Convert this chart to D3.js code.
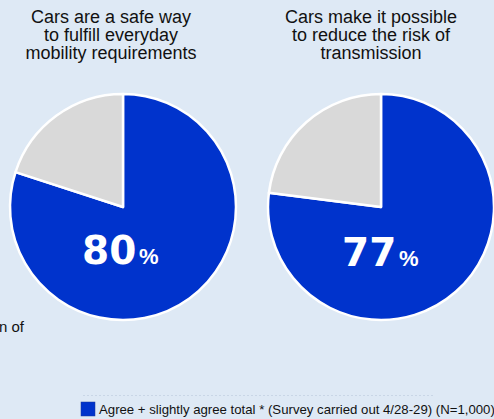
<!DOCTYPE html>
<html>
<head>
<meta charset="utf-8">
<script src="https://cdn.jsdelivr.net/npm/d3@7"></script>
<style>
  html, body { margin: 0; padding: 0; background: #dee9f5; }
  svg { display: block; font-family: "Liberation Sans", Arial, sans-serif; }
</style>
</head>
<body>
<svg id="chart" width="494" height="419"></svg>
<script>
// Survey questions (one pie each) and the share answering "agree + slightly agree"
const questions = [
  ["Cars are a safe way", "to fulfill everyday", "mobility requirements"],
  ["Cars make it possible", "to reduce the risk of", "transmission"]
];
const agreeValues = [80, 77];
const legendText = "Agree + slightly agree total * (Survey carried out 4/28-29) (N=1,000)";
const sideText = "n of";

const W = 494, H = 419;
const svg = d3.select("#chart");
const blue = "#0033cc", grey = "#d9d9d9";

svg.append("rect").attr("width", W).attr("height", H).attr("fill", "#dee9f5");

// Horizontal placement of the two pies and their titles
const x = d3.scalePoint().domain(d3.range(questions.length)).range([123, 381]);
const titleX = d3.scalePoint().domain(d3.range(questions.length)).range([111, 371]);
const cy = 207, r = 113;

const pie = d3.pie().sort(null).value(d => d.v);
const arc = d3.arc().innerRadius(0).outerRadius(r);

questions.forEach((lines, i) => {
  const t = svg.append("text")
    .attr("x", titleX(i)).attr("y", 22.5)
    .attr("text-anchor", "middle")
    .attr("font-size", 18).attr("fill", "#111");
  lines.forEach((ln, j) => {
    t.append("tspan").attr("x", titleX(i)).attr("dy", j ? 18.3 : 0).text(ln);
  });

  const g = svg.append("g").attr("transform", `translate(${x(i)},${cy})`);
  const data = [{ k: "agree", v: agreeValues[i] }, { k: "other", v: 100 - agreeValues[i] }];
  g.selectAll("path").data(pie(data)).join("path")
    .attr("d", arc)
    .attr("fill", d => d.data.k === "agree" ? blue : grey)
    .attr("stroke", "#ffffff").attr("stroke-width", 2.5).attr("stroke-linejoin", "round");

  // big value label: heavy number followed by a smaller percent sign
  const bx = -41 + i * 2, by = 57 + i * 2;
  g.append("text")
    .attr("x", bx).attr("y", by)
    .attr("font-family", "'DejaVu Sans', sans-serif")
    .attr("font-size", 39).attr("font-weight", "bold").attr("fill", "#ffffff")
    .text(agreeValues[i]);
  g.append("text")
    .attr("x", bx + 57).attr("y", by)
    .attr("font-size", 22).attr("font-weight", "bold").attr("fill", "#ffffff")
    .text("%");
});

svg.append("text").attr("x", -1).attr("y", 332)
  .attr("font-size", 15).attr("fill", "#111").text(sideText);

// faint dotted separator above the legend
svg.append("line").attr("x1", 83).attr("x2", 434).attr("y1", 395.5).attr("y2", 395.5)
  .attr("stroke", "#c9d6e6").attr("stroke-dasharray", "2,2");

svg.append("rect").attr("x", 81).attr("y", 402).attr("width", 14).attr("height", 14)
  .attr("fill", blue).attr("stroke", "#1a3a9a").attr("stroke-width", 0.5);
svg.append("text").attr("x", 99).attr("y", 414)
  .attr("font-size", 13.2).attr("fill", "#111").text(legendText);
</script>
</body>
</html>
